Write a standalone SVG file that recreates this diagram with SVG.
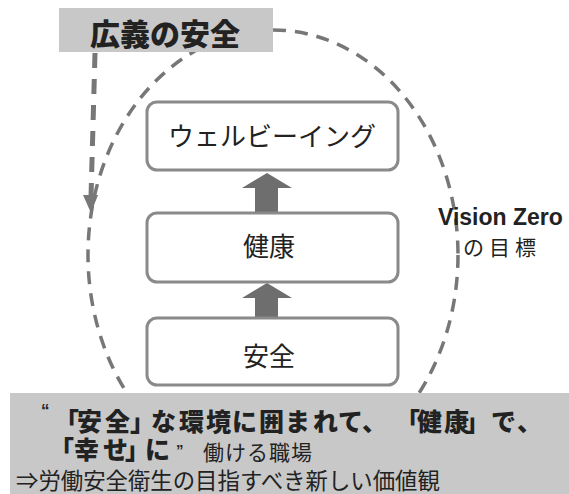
<svg xmlns="http://www.w3.org/2000/svg" width="569" height="494" viewBox="0 0 569 494">
<style>
.jp{font-family:"Noto Sans CJK JP","Noto Sans",sans-serif;fill:#222}
.node rect{fill:#fff;stroke:#8a8a8a;stroke-width:3}
.lbl{font-size:26px;text-anchor:middle}
.band{fill:#c8c8c8}
.arrow{fill:#6e6e6e}
</style>
<rect width="569" height="494" fill="#fff"/>
<g id="connectors">
  <ellipse cx="273" cy="255" rx="185" ry="225" fill="none" stroke="#777" stroke-width="3.5" stroke-dasharray="13 9"/>
  <path d="M95,53 L91,197" fill="none" stroke="#777" stroke-width="5" stroke-dasharray="15 11"/>
  <polygon points="83,195 98,195 91,213" fill="#777"/>
  <polygon class="arrow" points="255,213 255,188 242,188 267,173 292,188 278,188 278,213"/>
  <polygon class="arrow" points="255,318 255,298 242,298 267,283 292,298 278,298 278,318"/>
</g>
<g id="broad-safety">
  <rect class="band" x="59" y="8" width="214" height="44"/>
  <text class="jp" x="90" y="45" font-size="30" font-weight="900">広義の安全</text>
</g>
<g id="wellbeing" class="node">
  <rect x="147" y="102" width="251" height="68" rx="10"/>
  <text class="jp lbl" x="272" y="146">ウェルビーイング</text>
</g>
<g id="health" class="node">
  <rect x="147" y="213" width="251" height="69" rx="10"/>
  <text class="jp lbl" x="269" y="256" font-size="27">健康</text>
</g>
<g id="safety" class="node">
  <rect x="147" y="318" width="251" height="67" rx="10"/>
  <text class="jp lbl" x="269" y="366">安全</text>
</g>
<g id="vision-zero">
  <text x="438" y="225" font-family="Liberation Sans, Arial, sans-serif" font-size="23" font-weight="bold" fill="#222">Vision Zero</text>
  <text class="jp" x="463" y="255" font-size="21" letter-spacing="5">の目標</text>
</g>
<g id="summary">
  <rect class="band" x="10" y="393" width="559" height="101"/>
  <text x="41" y="416" font-family="Liberation Sans, Arial, sans-serif" font-size="17" font-weight="bold" fill="#222">“</text>
  <text class="jp" y="431" font-size="25" font-weight="900" x="54 77 105 130 151 179 206 232 259 285 313 338 362 395 417 444 465 491 517">「安全」な環境に囲まれて、「健康」で、</text>
  <text class="jp" y="459" font-size="25" font-weight="900" x="49 74 103 125 145">「幸せ」に</text>
  <text x="176" y="455" font-family="Liberation Sans, Arial, sans-serif" font-size="15" font-weight="bold" fill="#222">”</text>
  <text class="jp" x="203" y="460" font-size="21" letter-spacing="1">働ける職場</text>
  <text class="jp" x="16" y="489" font-size="22.4">⇒労働安全衛生の目指すべき新しい価値観</text>
</g>
</svg>
